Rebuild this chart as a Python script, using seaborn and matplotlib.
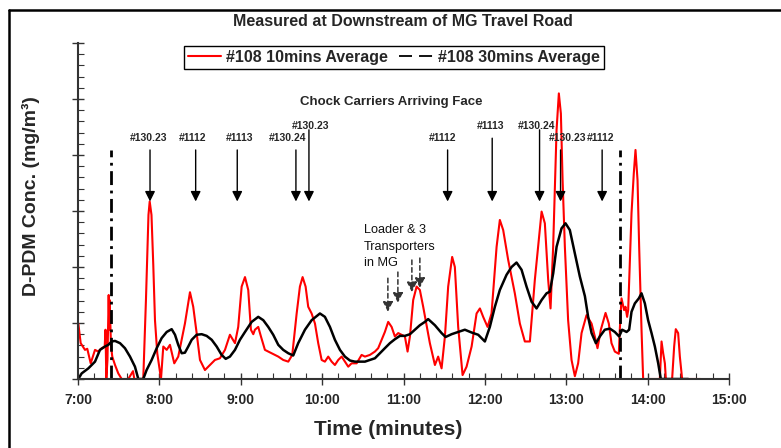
import matplotlib
matplotlib.use("Agg")
import matplotlib.pyplot as plt
from matplotlib.lines import Line2D
from matplotlib.ticker import FixedLocator, MultipleLocator
import seaborn as sns

# 10 minute average (#108), time in hours, D-PDM conc. in mg/m3
red_time = [7.004, 7.033, 7.086, 7.114, 7.156, 7.209, 7.249, 7.291, 7.328, 7.338,
            7.348, 7.362, 7.377, 7.385, 7.389, 7.405, 7.421, 7.455, 7.495, 7.537,
            7.618, 7.676, 7.692, 7.802, 7.835, 7.866, 7.881, 7.903, 7.925, 7.946,
            7.974, 8.020, 8.048, 8.090, 8.130, 8.183, 8.232, 8.314, 8.376, 8.416,
            8.458, 8.499, 8.560, 8.601, 8.683, 8.744, 8.806, 8.867, 8.929, 8.969,
            9.011, 9.052, 9.092, 9.125, 9.154, 9.174, 9.215, 9.248, 9.297, 9.380,
            9.461, 9.522, 9.584, 9.633, 9.687, 9.727, 9.760, 9.797, 9.829, 9.871,
            9.912, 9.952, 9.994, 10.034, 10.075, 10.117, 10.157, 10.198, 10.240, 10.280,
            10.321, 10.362, 10.424, 10.485, 10.526, 10.587, 10.649, 10.689, 10.731, 10.771,
            10.812, 10.854, 10.894, 10.935, 10.977, 11.017, 11.050, 11.079, 11.119, 11.161,
            11.201, 11.242, 11.324, 11.386, 11.426, 11.468, 11.509, 11.549, 11.598, 11.631,
            11.672, 11.726, 11.775, 11.837, 11.898, 11.939, 11.979, 12.033, 12.082, 12.144,
            12.184, 12.225, 12.286, 12.368, 12.430, 12.491, 12.553, 12.614, 12.663, 12.697,
            12.737, 12.778, 12.807, 12.839, 12.881, 12.909, 12.934, 12.955, 12.983, 13.023,
            13.065, 13.106, 13.146, 13.188, 13.249, 13.311, 13.351, 13.384, 13.425, 13.483,
            13.523, 13.556, 13.597, 13.646, 13.658, 13.679, 13.711, 13.728, 13.748, 13.761,
            13.781, 13.802, 13.830, 13.851, 13.876, 13.896, 13.925, 13.945, 14.150, 14.171,
            14.191, 14.212, 14.224, 14.301, 14.326, 14.346, 14.375, 14.396, 14.424, 14.650]
red_conc = [0.99, 0.64, 0.52, 0.54, 0.28, 0.52, 0.49, 0.55, 0.58, 0.88,
            0.00, 0.34, 1.50, 0.88, 1.41, 0.61, 0.40, 0.25, 0.10, 0.00,
            0.00, 0.14, 0.00, 0.00, 1.41, 2.93, 3.17, 2.93, 2.04, 1.05,
            0.46, 0.00, 0.58, 0.52, 0.61, 0.28, 0.40, 0.99, 1.55, 1.29,
            0.82, 0.34, 0.16, 0.22, 0.34, 0.37, 0.52, 0.79, 0.64, 0.93,
            1.65, 1.82, 1.59, 0.88, 0.80, 0.88, 0.93, 0.76, 0.52, 0.46,
            0.40, 0.34, 0.31, 0.43, 1.17, 1.65, 1.82, 1.65, 1.29, 1.17,
            0.99, 0.64, 0.34, 0.31, 0.40, 0.31, 0.25, 0.34, 0.40, 0.31,
            0.22, 0.28, 0.28, 0.43, 0.40, 0.43, 0.49, 0.55, 0.70, 0.84,
            1.02, 0.93, 0.76, 0.82, 0.79, 0.76, 0.49, 0.76, 1.41, 1.65,
            1.59, 1.29, 0.64, 0.25, 0.40, 0.19, 0.76, 1.65, 2.18, 2.00,
            0.93, 0.07, 0.22, 0.58, 1.17, 1.26, 1.11, 0.93, 1.17, 2.36,
            2.84, 2.66, 2.13, 1.53, 0.99, 0.67, 0.67, 1.77, 2.48, 2.99,
            2.78, 1.77, 1.26, 2.36, 4.45, 5.10, 4.74, 3.55, 2.36, 1.05,
            0.34, 0.05, 0.28, 0.82, 1.14, 0.99, 0.76, 0.55, 0.88, 1.18,
            0.99, 0.64, 0.49, 0.45, 0.88, 1.44, 1.23, 1.29, 1.11, 1.23,
            2.07, 2.96, 3.67, 4.09, 3.55, 2.36, 0.88, 0.00, 0.00, 0.67,
            0.46, 0.28, 0.00, 0.00, 0.58, 0.89, 0.82, 0.40, 0.00, 0.00]

# 30 minute average (#108)
black_time = [7.004, 7.045, 7.127, 7.209, 7.270, 7.332, 7.372, 7.414, 7.455, 7.516,
              7.577, 7.639, 7.700, 7.741, 7.802, 7.843, 7.905, 7.967, 8.028, 8.090,
              8.151, 8.192, 8.232, 8.274, 8.314, 8.355, 8.397, 8.458, 8.520, 8.581,
              8.643, 8.704, 8.765, 8.815, 8.867, 8.929, 8.990, 9.052, 9.134, 9.215,
              9.277, 9.338, 9.399, 9.461, 9.522, 9.584, 9.645, 9.706, 9.789, 9.871,
              9.973, 10.034, 10.096, 10.157, 10.219, 10.280, 10.342, 10.403, 10.526, 10.587,
              10.649, 10.710, 10.771, 10.833, 10.894, 10.956, 11.017, 11.079, 11.140, 11.201,
              11.263, 11.303, 11.386, 11.468, 11.517, 11.591, 11.672, 11.754, 11.837, 11.918,
              12.000, 12.061, 12.123, 12.184, 12.266, 12.328, 12.389, 12.451, 12.512, 12.574,
              12.635, 12.697, 12.758, 12.799, 12.840, 12.881, 12.942, 12.991, 13.044, 13.106,
              13.167, 13.229, 13.269, 13.311, 13.364, 13.413, 13.474, 13.536, 13.597, 13.650,
              13.687, 13.741, 13.773, 13.802, 13.843, 13.892, 13.925, 13.966, 14.006, 14.048,
              14.089, 14.130, 14.162, 14.500]
black_conc = [0.00, 0.10, 0.19, 0.31, 0.52, 0.58, 0.61, 0.67, 0.68, 0.64,
              0.55, 0.40, 0.22, 0.00, 0.00, 0.16, 0.34, 0.55, 0.73, 0.84,
              0.89, 0.79, 0.61, 0.46, 0.47, 0.58, 0.70, 0.79, 0.80, 0.77,
              0.70, 0.58, 0.43, 0.36, 0.40, 0.52, 0.70, 0.84, 1.02, 1.11,
              1.05, 0.93, 0.79, 0.61, 0.52, 0.46, 0.42, 0.64, 0.88, 1.05,
              1.17, 1.11, 0.93, 0.70, 0.52, 0.40, 0.33, 0.31, 0.31, 0.34,
              0.37, 0.46, 0.55, 0.64, 0.71, 0.77, 0.77, 0.80, 0.88, 0.96,
              1.02, 1.07, 0.96, 0.82, 0.75, 0.80, 0.84, 0.88, 0.83, 0.79,
              0.67, 0.93, 1.29, 1.59, 1.86, 2.00, 2.08, 1.95, 1.65, 1.38,
              1.26, 1.41, 1.53, 1.56, 1.89, 2.36, 2.69, 2.78, 2.66, 2.24,
              1.83, 1.48, 1.11, 0.82, 0.64, 0.76, 0.88, 0.90, 0.84, 0.76,
              0.88, 0.84, 0.88, 1.20, 1.35, 1.44, 1.53, 1.35, 1.05, 0.82,
              0.58, 0.28, 0.00, 0.00]

hour_ticks = [7, 8, 9, 10, 11, 12, 13, 14, 15]
hour_labels = ["7:00", "8:00", "9:00", "10:00", "11:00", "12:00", "13:00", "14:00", "15:00"]

# chock carriers arriving at the face
carrier_labels = ["#130.23", "#1112", "#1113", "#130.24", "#130.23",
                  "#1112", "#1113", "#130.24", "#130.23", "#1112"]
carrier_arrow_time = [7.885, 8.446, 8.957, 9.678, 9.838, 11.542, 12.090, 12.672, 12.930, 13.441]
carrier_arrow_top = [4.09, 4.09, 4.09, 4.09, 4.45, 4.09, 4.30, 4.45, 4.09, 4.09]
carrier_label_time = [7.872, 8.413, 8.990, 9.574, 9.862, 11.484, 12.073, 12.638, 13.013, 13.425]
carrier_label_y = [4.30, 4.30, 4.30, 4.30, 4.52, 4.30, 4.52, 4.52, 4.30, 4.30]
carrier_arrow_tip = 3.17

# loader & transporters in main gate
loader_time = [10.808, 10.931, 11.103, 11.201]
loader_top = [1.80, 1.91, 2.125, 2.16]
loader_tip = [1.20, 1.36, 1.55, 1.625]

shift_marks = [7.405, 13.658]

sns.set_theme(style="ticks")
plt.rcParams["font.family"] = ["Liberation Sans", "DejaVu Sans"]

W, H = 781, 448
fig = plt.figure(figsize=(W / 100, H / 100), dpi=100)
ax = fig.add_axes([78 / W, (H - 379) / H, (729 - 78) / W, (379 - 43) / H])

sns.lineplot(x=red_time, y=red_conc, color="#ff0000", lw=1.5, estimator=None,
             sort=False, ax=ax, legend=False)
sns.lineplot(x=black_time, y=black_conc, color="black", lw=1.8, estimator=None,
             sort=False, ax=ax, legend=False)

ax.set_xlim(7, 15)
ax.set_ylim(0, 6)
ax.xaxis.set_major_locator(FixedLocator(hour_ticks))
ax.set_xticklabels(hour_labels, fontsize=10, fontweight="bold")
ax.xaxis.set_minor_locator(MultipleLocator(0.2))
ax.yaxis.set_major_locator(MultipleLocator(1))
ax.yaxis.set_minor_locator(MultipleLocator(0.2))
ax.set_yticklabels([])
ax.tick_params(axis="both", which="major", direction="inout", length=8, width=1,
               color="#333333", pad=6)
ax.tick_params(axis="both", which="minor", direction="in", length=4, width=0.8,
               color="#333333")
for side in ["top", "right"]:
    ax.spines[side].set_visible(False)
for side in ["left", "bottom"]:
    ax.spines[side].set_color("#333333")
    ax.spines[side].set_linewidth(1.5)

ax.set_xlabel("Time (minutes)", fontsize=15, fontweight="bold")
ax.xaxis.set_label_coords(0.476, -0.122)
ax.set_ylabel("D-PDM Conc. (mg/m³)", fontsize=14, fontweight="bold")
ax.yaxis.set_label_coords(-0.058, 0.545)

# dash-dot shift markers
for t in shift_marks:
    ax.plot([t, t], [0, 4.09], color="black", lw=2, dashes=(5.0, 2.0, 1.0, 2.0))

# carrier arrows
ax.text(10.845, 4.95, "Chock Carriers Arriving Face", ha="center", va="center",
        fontsize=9.5, fontweight="bold")
for lab, at, top, lt, ly in zip(carrier_labels, carrier_arrow_time, carrier_arrow_top,
                                carrier_label_time, carrier_label_y):
    ax.annotate("", xy=(at, carrier_arrow_tip), xytext=(at, top),
                arrowprops=dict(arrowstyle="-|>,head_length=0.6,head_width=0.3",
                                color="black", lw=1, mutation_scale=10,
                                shrinkA=0, shrinkB=0))
    ax.text(lt, ly, lab, ha="center", va="center", fontsize=7.5, fontweight="bold")

# loader arrows
ax.text(10.513, 2.76, "Loader & 3\nTransporters\nin MG", ha="left", va="top",
        fontsize=9.2, color="#111111", linespacing=1.5)
for t, top, tip in zip(loader_time, loader_top, loader_tip):
    ax.annotate("", xy=(t, tip), xytext=(t, top),
                arrowprops=dict(arrowstyle="-|>,head_length=0.6,head_width=0.3",
                                color="#333333", lw=1.1, ls=(0, (3, 2)),
                                mutation_scale=10, shrinkA=0, shrinkB=0))

handles = [Line2D([], [], color="#ff0000", lw=1.5),
           Line2D([], [], color="black", lw=1.3, dashes=(7.2, 3.9))]
leg = ax.legend(handles, ["#108 10mins Average", "#108 30mins Average"], ncol=2,
                loc="center", bbox_to_anchor=(0.485, 0.958), frameon=True,
                fancybox=False, edgecolor="black", framealpha=1,
                prop=dict(size=11.5, weight="bold"), handlelength=2.1,
                handletextpad=0.3, columnspacing=0.7, borderpad=0.25)
leg.get_frame().set_linewidth(1)

fig.text(403 / W, 1 - 22 / H, "Measured at Downstream of MG Travel Road",
         ha="center", va="center", fontsize=11.5, fontweight="bold")

# frame lines of the original page
fig.add_artist(Line2D([8.5 / W, 8.5 / W], [0, 1 - 10 / H], color="black", lw=1.8))
fig.add_artist(Line2D([8.5 / W, 1], [1 - 10 / H, 1 - 10 / H], color="black", lw=1.8))

fig.savefig("out.png", dpi=100)
